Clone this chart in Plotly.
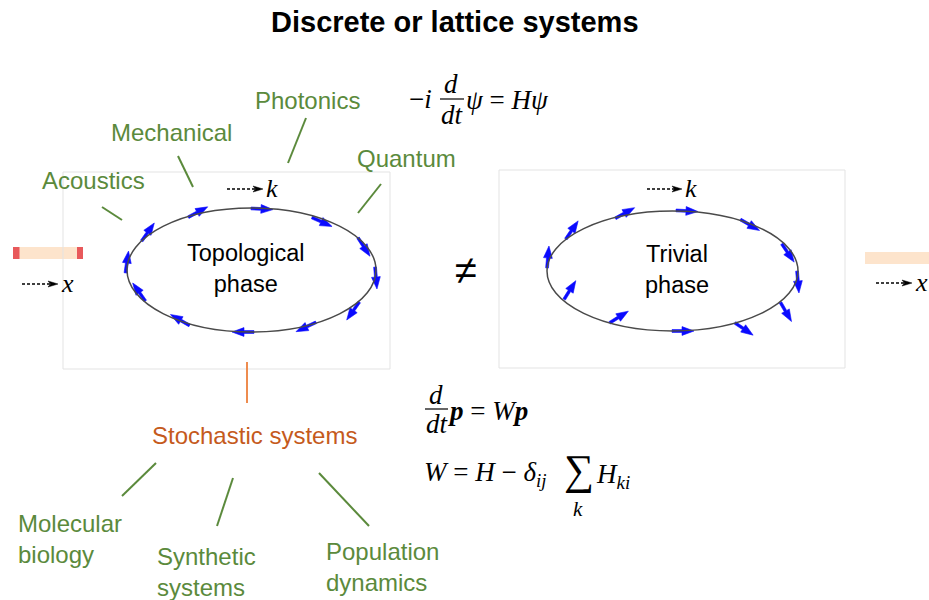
import math
import plotly.graph_objects as go

# ---------------- data ----------------
title_text = "Discrete or lattice systems"

# topological phase: arrow centres and screen directions (deg, 0 = right, + = downward)
topo_x = [198, 148, 127, 262, 322, 364, 376, 353, 306, 243, 180, 139]
topo_y = [212, 232, 262, 209, 222, 247, 278, 311, 327, 332, 320, 292]
topo_dir = [-28, -55, -82, 3, 24, 57, 85, 125, 155, 180, 210, 235]

# trivial phase
triv_x = [625, 687, 750, 788, 798, 786, 744, 683, 619, 570, 548, 572]
triv_y = [213, 211, 225, 253, 282, 312, 329, 331, 317, 290, 257, 230]
triv_dir = [-29, 3, 30, 56, 85, 60, 34, 0, -32, -58, -85, -56]

# ellipses (x0, y0, x1, y1)
ellipses = [(127, 208, 376, 332), (547, 211, 798, 331)]
# frames
frames = [(63, 172, 390, 369), (499, 170, 845, 368)]

domain_labels = ["Photonics", "Mechanical", "Quantum", "Acoustics"]
domain_label_x = [307, 171, 406, 93]
domain_label_y = [100, 132, 158, 180]
domain_lines = [(306, 118, 288, 163), (178, 156, 193, 187),
                (381, 184, 358, 213), (102, 207, 122, 220)]

stoch_label = "Stochastic systems"
stoch_label_xy = (254, 435)
stoch_line = (247, 362, 247, 403)

app_labels = ["Molecular<br>biology", "Synthetic<br>systems", "Population<br>dynamics"]
app_label_x = [17, 156, 325]
app_label_y = [539, 572, 567]
app_lines = [(156, 463, 122, 496), (233, 478, 217, 526), (319, 473, 369, 526)]

phase_labels = ["Topological<br>phase", "Trivial<br>phase"]
phase_label_x = [246, 677]
phase_label_y = [268, 269]

GREEN = "#5b8a3c"
ORANGE_T = "#c55a1c"
ORANGE_L = "#ee8c4f"
BLUE = "#0a0aff"
SERIF = "Liberation Serif, Times New Roman, serif"
SANS = "Liberation Sans, Arial, sans-serif"

fig = go.Figure()


def arrow_poly(cx, cy, ang, L=22, head=12, hw=4.4, sw=1.4):
    pts = [(-L / 2, -sw), (L / 2 - head, -sw), (L / 2 - head, -hw), (L / 2, 0),
           (L / 2 - head, hw), (L / 2 - head, sw), (-L / 2, sw), (-L / 2, -sw)]
    a = math.radians(ang)
    xs = [cx + u * math.cos(a) - v * math.sin(a) for u, v in pts]
    ys = [cy + u * math.sin(a) + v * math.cos(a) for u, v in pts]
    return xs, ys


shapes = []
for x0, y0, x1, y1 in frames:
    shapes.append(dict(type="rect", xref="x", yref="y", x0=x0, y0=y0, x1=x1, y1=y1,
                       line=dict(color="#e3e3e3", width=1)))
for x0, y0, x1, y1 in ellipses:
    shapes.append(dict(type="circle", xref="x", yref="y", x0=x0, y0=y0, x1=x1, y1=y1,
                       line=dict(color="#4a4a4a", width=1.5)))
for x0, y0, x1, y1 in domain_lines + app_lines:
    shapes.append(dict(type="line", xref="x", yref="y", x0=x0, y0=y0, x1=x1, y1=y1,
                       line=dict(color=GREEN, width=2)))
shapes.append(dict(type="line", xref="x", yref="y", x0=stoch_line[0], y0=stoch_line[1],
                   x1=stoch_line[2], y1=stoch_line[3], line=dict(color=ORANGE_L, width=2)))

# 1D chains (bars)
shapes.append(dict(type="rect", xref="x", yref="y", x0=13, y0=247, x1=83, y1=259,
                   line=dict(width=0), fillcolor="#fde4cc", layer="below"))
shapes.append(dict(type="rect", xref="x", yref="y", x0=13, y0=247, x1=19.5, y1=259,
                   line=dict(width=0), fillcolor="#e8595b"))
shapes.append(dict(type="rect", xref="x", yref="y", x0=77, y0=247, x1=83, y1=259,
                   line=dict(width=0), fillcolor="#e8595b"))
shapes.append(dict(type="rect", xref="x", yref="y", x0=865, y0=252, x1=929, y1=264,
                   line=dict(width=0), fillcolor="#fde4cc", layer="below"))

# arrows on the rings
for xs_, ys_, ds_ in [(topo_x, topo_y, topo_dir), (triv_x, triv_y, triv_dir)]:
    for cx, cy, d in zip(xs_, ys_, ds_):
        px, py = arrow_poly(cx, cy, d)
        fig.add_trace(go.Scatter(x=px, y=py, mode="lines", fill="toself",
                                 fillcolor=BLUE, line=dict(color=BLUE, width=0.6),
                                 hoverinfo="skip"))

# dashed axis arrows (x0, x1, y, label)
axis_arrows = [(22, 58, 284, "x"), (876, 912, 283, "x"), (227, 263, 189, "k"), (647, 682, 189, "k")]
for x0, x1, y, lab in axis_arrows:
    fig.add_trace(go.Scatter(x=[x0, x1 - 7], y=[y, y], mode="lines",
                             line=dict(color="black", width=1.3, dash="3px,2px"), hoverinfo="skip"))
    fig.add_trace(go.Scatter(x=[x1, x1 - 10, x1 - 7.5, x1 - 10, x1], y=[y, y - 3, y, y + 3, y],
                             mode="lines", fill="toself", fillcolor="black",
                             line=dict(color="black", width=0.5), hoverinfo="skip"))

ann = []


def text(x, y, t, size, color="black", family=SANS, xanchor="center", align="center"):
    ann.append(dict(x=x, y=y, xref="x", yref="y", text=t, showarrow=False,
                    font=dict(size=size, color=color, family=family),
                    xanchor=xanchor, yanchor="middle", align=align, borderpad=0))


text(455, 22, "<b>" + title_text + "</b>", 29)
for lab, x, y in zip(domain_labels, domain_label_x, domain_label_y):
    text(x, y, lab, 24, GREEN)
text(stoch_label_xy[0], stoch_label_xy[1], stoch_label, 24, ORANGE_T)
for lab, x, y in zip(app_labels, app_label_x, app_label_y):
    text(x, y, lab, 24, GREEN, xanchor="left", align="left")
for lab, x, y in zip(phase_labels, phase_label_x, phase_label_y):
    text(x, y, lab, 23.5)
text(466, 270, "≠", 40)

# axis labels
for x0, x1, y, lab in axis_arrows:
    text(x1 + 2, y - 1, "<i>" + lab + "</i>", 26, family=SERIF, xanchor="left")

# equation 1
text(408, 99, "−<i>i</i>", 27, family=SERIF, xanchor="left")
text(451, 84, "<i>d</i>", 27, family=SERIF)
text(452, 115, "<i>dt</i>", 27, family=SERIF)
shapes.append(dict(type="line", xref="x", yref="y", x0=440, y0=99, x1=464, y1=99,
                   line=dict(color="black", width=1.2)))
text(465, 100, "<i>ψ</i> = <i>Hψ</i>", 27, family=SERIF, xanchor="left")

# equation 2
text(436, 395, "<i>d</i>", 27, family=SERIF)
text(437, 424, "<i>dt</i>", 27, family=SERIF)
shapes.append(dict(type="line", xref="x", yref="y", x0=425, y0=409, x1=448, y1=409,
                   line=dict(color="black", width=1.2)))
text(447, 411, "<b><i>p</i></b> = <i>W</i><b><i>p</i></b>", 27, family=SERIF, xanchor="left")

# equation 3
text(423, 474, "<i>W</i> = <i>H</i> − <i>δ</i><sub><i>ij</i></sub>", 27, family=SERIF, xanchor="left")
text(579, 470, "∑", 42, family=SERIF)
text(578, 509, "<i>k</i>", 21, family=SERIF)
text(595, 476, "<i>H</i><sub><i>ki</i></sub>", 27, family=SERIF, xanchor="left")

fig.update_layout(
    width=929, height=600, margin=dict(l=0, r=0, t=0, b=0),
    paper_bgcolor="white", plot_bgcolor="white", showlegend=False,
    xaxis=dict(range=[0, 929], visible=False, fixedrange=True),
    yaxis=dict(range=[600, 0], visible=False, fixedrange=True),
    shapes=shapes, annotations=ann,
)

fig.write_html("out.html", config={"displayModeBar": False},
               post_script="document.body.style.margin='0px';")
